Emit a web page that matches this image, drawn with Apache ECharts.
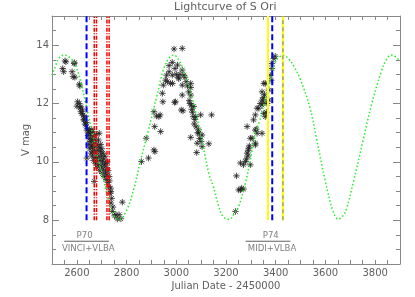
<!DOCTYPE html>
<html><head><meta charset="utf-8">
<script src="https://cdn.jsdelivr.net/npm/echarts@6/dist/echarts.min.js"></script>
<style>html,body{margin:0;padding:0;background:#fff}#c{width:415px;height:297px}</style>
</head><body><div id="c"></div>
<script>
// Observations [Julian Date - 2450000, V mag]
const obsCycle1 = [[2543,13.2],[2547,13.09],[2552,13.46],[2556,13.43],[2581,13.09],[2585,12.92],[2589,13.37],[2590,13.40],[2592,12.9],[2610,12.66],[2612,12.6],
[2600,11.91],[2603,12.06],[2610,12.0],[2613,11.85],[2616,11.89],[2616,11.72],[2620,11.66],[2623,11.78],[2625,11.6],[2627,11.44],[2630,11.55],[2630,11.44],[2633,11.3],[2636,11.26],[2638,11.35],[2640,11.09],[2640,10.13],[2643,11.15],[2645,10.9],[2647,11.0],[2648,10.6],[2650,11.07],[2650,10.8],[2652,10.45],[2654,10.7],[2655,10.95],[2657,10.3],[2658,10.55],[2660,11.1],[2660,10.75],[2662,10.2],[2663,11.04],[2663,10.5],[2665,10.35],[2665,10.85],[2667,10.05],[2668,10.65],[2670,9.33],[2670,10.9],[2671,10.4],[2673,10.15],[2674,10.75],[2675,9.95],[2676,10.55],[2678,10.3],[2679,10.95],[2680,9.8],[2681,10.6],[2683,10.1],[2684,10.4],[2686,9.9],[2687,10.75],[2688,10.2],[2690,10.98],[2690,10.5],[2692,9.7],[2693,10.05],[2695,10.35],[2696,10.6],[2698,9.85],[2699,10.2],[2700,10.45],[2702,9.6],[2703,10.0],[2705,10.3],[2706,9.75],[2708,10.1],[2710,9.5],[2711,9.9],[2713,10.2],[2715,9.65],[2716,9.95],[2718,9.4],[2720,9.8],[2721,9.55],[2723,10.0],[2724,9.3],[2726,9.7],[2728,9.15],[2730,9.5],[2731,9.35],[2734,8.93],[2736,9.1],[2737,8.98],[2737,8.59],[2740,8.75],[2743,8.3],[2745,8.45],[2752,8.15],[2757,8.19],[2763,8.04],[2770,8.19],[2777,8.05],[2783,8.62]];
const obsCycle2 = [[2860,10.01],[2879,10.81],[2888,10.13],[2910,11.72],[2910,10.41],[2913,11.21],[2914,10.35],[2920,11.57],[2930,11.55],[2935,11.61],[2937,11.04],[2944,12.35],[2946,12.06],[2948,12.63],[2957,12.8],[2961,12.97],[2964,12.75],[2971,13.09],[2971,13.3],[2977,12.69],[2984,12.97],[2984,13.41],[2985,12.69],[2991,13.87],[2993,12.04],[2995,13.2],[2997,12.06],[3000,13.0],[3005,13.32],[3008,12.9],[3010,12.85],[3015,13.0],[3020,11.78],[3024,13.89],[3024,13.15],[3024,12.63],[3024,12.29],[3027,11.75],[3031,12.97],[3035,12.9],[3040,12.75],[3045,12.6],[3050,12.4],[3052,12.1],[3055,12.0],[3058,12.69],[3058,12.55],[3058,12.29],[3060,11.95],[3062,11.8],[3065,11.7],[3068,11.55],[3070,11.9],[3072,11.3],[3075,11.45],[3078,11.55],[3080,11.2],[3082,10.32],[3084,10.64],[3086,11.0],[3090,11.1],[3091,10.98],[3094,10.8],[3098,11.61],[3100,10.7],[3104,10.52],[3104,10.92],[3058,10.84],[3131,10.62],[3142,11.61]];
const obsCycle3 = [[3238,8.3],[3242,9.52],[3251,9.04],[3258,9.04],[3263,9.1],[3271,9.07],[3258,9.96],[3270,9.9],[3278,10.01],[3282,10.1],[3285,10.3],[3288,10.2],[3290,10.4],[3291,10.47],[3294,10.55],[3298,9.9],[3298,10.81],[3285,11.21],[3305,10.81],[3311,11.44],[3318,10.64],[3318,11.09],[3318,10.58],[3318,11.61],[3322,11.12],[3325,10.98],[3325,11.84],[3332,11.84],[3338,12.0],[3345,12.12],[3345,12.4],[3345,11.95],[3345,10.98],[3350,12.2],[3352,11.66],[3352,12.06],[3352,12.69],[3355,12.3],[3358,11.55],[3358,12.69],[3362,11.7],[3365,12.0],[3372,12.46],[3372,12.12],[3378,12.97],[3382,12.8],[3385,13.2],[3385,13.37],[3392,13.54],[3398,13.62]];
// Model light curve
const modelJD  = [2500,2513,2527,2550,2575,2594,2614,2634,2660,2687,2707,2727,2747,2770,2801,2830,2855,2888,2921,2948,2970,2990,3010,3028,3062,3095,3131,3149,3170,3188,3212,3235,3251,3278,3298,3318,3335,3352,3371,3398,3415,3432,3455,3475,3498,3538,3564,3598,3631,3652,3670,3685,3712,3752,3785,3825,3845,3865,3885,3900];
const modelMag = [12.97,13.26,13.55,13.66,13.55,13.32,12.8,12.06,11.09,10.07,9.38,8.7,8.19,8.02,8.36,9.1,10.0,11.09,12.23,13.15,13.55,13.66,13.5,13.15,12.23,11.09,9.6,9.16,8.5,8.13,8.03,8.25,8.47,9.27,10.07,10.98,11.4,11.95,12.55,13.4,13.6,13.65,13.5,13.25,12.85,11.85,10.8,9.4,8.3,8.04,8.15,8.4,9.3,10.75,11.95,13.1,13.5,13.66,13.58,13.45];
// Observation epochs (vertical lines)
const blueEpochs = [2639, 3386];
const redEpochs = [2670, 2679, 2721, 2730];
const yellowEpochs = [3369, 3429];
const greyEpochs = [3429];
const lineBottom = 8, lineTop = 15;
// Campaign annotations
const campaigns = [
  {period:'P70', instr:'VINCI+VLBA', from:2549, to:2729, pLabelX:2631, iLabelX:2646},
  {period:'P74', instr:'MIDI+VLBA', from:3279, to:3459, pLabelX:3380, iLabelX:3385}
];
const annY = {period:7.47, bar:7.28, instr:7.03};
const yTickLabels = [8,10,12,14];

const TXT = '#606060', AX = '#888';
const FONT = 'DejaVu Sans';
const asterisk = 'path://M5,0L5,10M0,5L10,5M1.5,1.5L8.5,8.5M1.5,8.5L8.5,1.5';
const vline = (x, style, z) => ({type:'line', data:[[x,lineBottom],[x,lineTop]], symbol:'none', lineStyle:style, z:z, silent:true});

const series = [];
[obsCycle1, obsCycle2, obsCycle3].forEach(d => series.push({
  type:'scatter', data:d, symbol:asterisk, symbolSize:6.5, z:2,
  itemStyle:{color:'rgba(0,0,0,0)', borderColor:'#222', borderWidth:1, opacity:0.8}
}));
series.push({type:'line', data:modelJD.map((x,i)=>[x,modelMag[i]]), smooth:0.4, symbol:'none', z:3,
  lineStyle:{color:'#22ee22', width:1.5, type:[1.5,2.2]}});
redEpochs.forEach(x => series.push(vline(x, {color:'#ff0000', width:1.5, type:[4,1.5,1.2,1.5]}, 4)));
blueEpochs.forEach(x => series.push(vline(x, {color:'#0000ff', width:2, type:[6,3]}, 4)));
yellowEpochs.forEach(x => series.push(vline(x, {color:'#ffff00', width:2, type:'solid'}, 4)));
greyEpochs.forEach(x => series.push(vline(x, {color:'#777', width:1, type:[4,3]}, 5)));
campaigns.forEach(c => {
  series.push({type:'line', data:[[c.from,annY.bar],[c.to,annY.bar]], symbol:'none', z:4, lineStyle:{color:TXT, width:1}});
  series.push({type:'scatter', symbolSize:0, z:5,
    data:[{name:c.period, value:[c.pLabelX, annY.period]},{name:c.instr, value:[c.iLabelX, annY.instr]}],
    label:{show:true, position:'inside', formatter:p=>p.name, color:TXT, fontSize:9.5, fontFamily:"'DejaVu Sans Condensed', 'DejaVu Sans'"}});
});

const xBase = {type:'value', min:2500, max:3900, interval:50, splitLine:{show:false},
  axisLine:{lineStyle:{color:AX}}, axisTick:{inside:true, length:4, lineStyle:{color:AX}}};
const yBase = {type:'value', min:6.5, max:15, interval:0.5, splitLine:{show:false},
  axisLine:{lineStyle:{color:AX}}, axisTick:{inside:true, length:4, lineStyle:{color:AX}}};

const chart = echarts.init(document.getElementById('c'), null, {renderer:'canvas'});
chart.setOption({
  animation:false,
  backgroundColor:'#fff',
  title:{text:'Lightcurve of S Ori', left:174, top:2, padding:0,
    textStyle:{color:TXT, fontSize:11, fontWeight:'normal', fontFamily:FONT}},
  grid:{left:52, right:15, top:16, bottom:33},
  xAxis:[
    Object.assign({}, xBase, {position:'bottom', name:'Julian Date - 2450000', nameLocation:'middle', nameGap:17,
      nameMoveOverlap:false,
      nameTextStyle:{color:TXT, fontSize:10, fontFamily:FONT},
      axisLabel:{color:TXT, fontSize:10, margin:4, fontFamily:FONT, formatter:v => (v % 200 === 0 ? String(v) : '')}}),
    Object.assign({}, xBase, {position:'top', axisLabel:{show:false}})
  ],
  yAxis:[
    Object.assign({}, yBase, {position:'left', name:'V mag', nameLocation:'middle', nameGap:21,
      nameMoveOverlap:false,
      nameTextStyle:{color:TXT, fontSize:10, fontFamily:FONT},
      axisLabel:{color:TXT, fontSize:10, margin:3, fontFamily:FONT, formatter:v => (yTickLabels.indexOf(v) >= 0 ? String(v) : '')}}),
    Object.assign({}, yBase, {position:'right', axisLabel:{show:false}}),
    Object.assign({}, yBase, {position:'left', axisLine:{show:false}, axisLabel:{show:false},
      axisTick:{inside:true, length:7, lineStyle:{color:AX}, customValues:yTickLabels}}),
    Object.assign({}, yBase, {position:'right', axisLine:{show:false}, axisLabel:{show:false},
      axisTick:{inside:true, length:7, lineStyle:{color:AX}, customValues:yTickLabels}})
  ],
  series: series
});
</script></body></html>
